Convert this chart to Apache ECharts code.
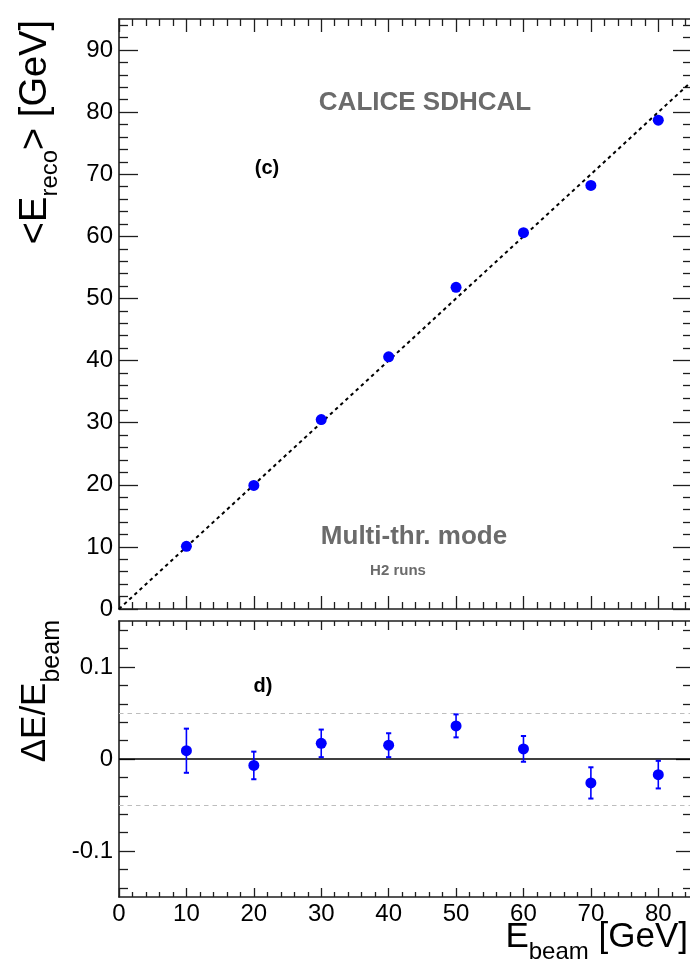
<!DOCTYPE html>
<html>
<head>
<meta charset="utf-8">
<title>CALICE SDHCAL linearity</title>
<script src="https://cdn.jsdelivr.net/npm/echarts@6.0.0/dist/echarts.min.js"></script>
<style>
  html, body { margin: 0; padding: 0; background: #ffffff; }
  #chart { width: 690px; height: 966px; }
</style>
</head>
<body>
<div id="chart"></div>
<script>
// Beam energies (GeV)
const beamEnergy = [10, 20, 30, 40, 50, 60, 70, 80];
// Mean reconstructed energy (GeV)
const recoEnergy = [10.1, 19.9, 30.5, 40.6, 51.8, 60.6, 68.2, 78.7];
// Relative deviation (E_reco - E_beam) / E_beam and its uncertainty
const relDeviation = [0.009, -0.007, 0.017, 0.015, 0.036, 0.011, -0.026, -0.017];
const relDeviationErr = [0.024, 0.015, 0.015, 0.013, 0.0125, 0.014, 0.017, 0.015];

// Reference line E_reco = E_beam
const diagSlope = 1.0;
const diagRange = [0, 85];

// Tick positions and labels
const xMajorTicks = [0, 10, 20, 30, 40, 50, 60, 70, 80];
const xMinorTicks = [2, 4, 6, 8, 12, 14, 16, 18, 22, 24, 26, 28, 32, 34, 36, 38, 42, 44, 46, 48,
                     52, 54, 56, 58, 62, 64, 66, 68, 72, 74, 76, 78, 82, 84];
const yTopMajorTicks = [0, 10, 20, 30, 40, 50, 60, 70, 80, 90];
const yTopMinorTicks = [2, 4, 6, 8, 12, 14, 16, 18, 22, 24, 26, 28, 32, 34, 36, 38, 42, 44, 46, 48,
                        52, 54, 56, 58, 62, 64, 66, 68, 72, 74, 76, 78, 82, 84, 86, 88, 92, 94];
const yBotMajorTicks = [-0.1, 0, 0.1];
const yBotMinorTicks = [-0.14, -0.12, -0.08, -0.06, -0.04, -0.02, 0.02, 0.04, 0.06, 0.08, 0.12, 0.14];
const bandLimits = [-0.05, 0.05];

const X_RANGE = [0, 85];
const Y_TOP_RANGE = [0, 95];
const Y_BOT_RANGE = [-0.15, 0.15];

const FRAME = '#1e1e1e';
const BLUE = '#0000ff';
const GREY_TEXT = '#6b6b6b';
const FONT = '"Liberation Sans", Arial, Helvetica, sans-serif';

function axis(gridIndex, position, range, ticks, tickLen, showLine, labelTicks) {
  return {
    type: 'value',
    gridIndex: gridIndex,
    position: position,
    min: range[0],
    max: range[1],
    axisLine: { show: showLine, onZero: false, lineStyle: { color: FRAME, width: 1.6 } },
    axisTick: {
      show: true, inside: true, length: tickLen, customValues: ticks,
      lineStyle: { color: FRAME, width: 1.3 }
    },
    axisLabel: labelTicks ? {
      show: true, customValues: labelTicks, color: '#000', fontFamily: FONT, fontSize: 24,
      margin: position === 'bottom' ? 5 : 6
    } : { show: false },
    splitLine: { show: false },
    minorTick: { show: false }
  };
}

const xAxes = [
  // top panel
  axis(0, 'bottom', X_RANGE, xMajorTicks, 13, true, null),
  axis(0, 'bottom', X_RANGE, xMinorTicks, 7, false, null),
  axis(0, 'top', X_RANGE, xMajorTicks, 13, true, null),
  axis(0, 'top', X_RANGE, xMinorTicks, 7, false, null),
  // bottom panel
  axis(1, 'bottom', X_RANGE, xMajorTicks, 9, true, xMajorTicks),
  axis(1, 'bottom', X_RANGE, xMinorTicks, 5, false, null),
  axis(1, 'top', X_RANGE, xMajorTicks, 9, true, null),
  axis(1, 'top', X_RANGE, xMinorTicks, 5, false, null)
];

const yAxes = [
  // top panel
  axis(0, 'left', Y_TOP_RANGE, yTopMajorTicks, 19, true, yTopMajorTicks),
  axis(0, 'left', Y_TOP_RANGE, yTopMinorTicks, 9, false, null),
  axis(0, 'right', Y_TOP_RANGE, yTopMajorTicks, 19, true, null),
  axis(0, 'right', Y_TOP_RANGE, yTopMinorTicks, 9, false, null),
  // bottom panel
  axis(1, 'left', Y_BOT_RANGE, yBotMajorTicks, 16, true, yBotMajorTicks),
  axis(1, 'left', Y_BOT_RANGE, yBotMinorTicks, 9, false, null),
  axis(1, 'right', Y_BOT_RANGE, yBotMajorTicks, 16, true, null),
  axis(1, 'right', Y_BOT_RANGE, yBotMinorTicks, 9, false, null)
];

const recoPoints = beamEnergy.map((e, i) => [e, recoEnergy[i]]);
const devPoints = beamEnergy.map((e, i) => [e, relDeviation[i], relDeviationErr[i]]);
const diagLine = diagRange.map(x => [x, diagSlope * x]);

function renderErrorBar(params, api) {
  const x = api.value(0), y = api.value(1), err = api.value(2);
  const hi = api.coord([x, y + err]);
  const lo = api.coord([x, y - err]);
  const cap = 2.6;
  const style = { stroke: BLUE, lineWidth: 1.6 };
  const capStyle = { stroke: BLUE, lineWidth: 2 };
  return {
    type: 'group',
    children: [
      { type: 'line', shape: { x1: hi[0], y1: hi[1], x2: lo[0], y2: lo[1] }, style: style },
      { type: 'line', shape: { x1: hi[0] - cap, y1: hi[1], x2: hi[0] + cap, y2: hi[1] }, style: capStyle },
      { type: 'line', shape: { x1: lo[0] - cap, y1: lo[1], x2: lo[0] + cap, y2: lo[1] }, style: capStyle }
    ]
  };
}

const titleRich = (main, sub, lineH) => ({
  m: { fontFamily: FONT, fontSize: main, lineHeight: lineH, verticalAlign: 'middle', fill: '#000' },
  s: { fontFamily: FONT, fontSize: sub, lineHeight: sub, verticalAlign: 'bottom', fill: '#000' }
});

const chart = echarts.init(document.getElementById('chart'), null, { renderer: 'canvas' });

chart.setOption({
  backgroundColor: '#ffffff',
  animation: false,
  grid: [
    { left: 119, top: 19, width: 573, height: 590, outerBoundsMode: 'none', containLabel: false },
    { left: 119, top: 621, width: 573, height: 276, outerBoundsMode: 'none', containLabel: false }
  ],
  xAxis: xAxes,
  yAxis: yAxes,
  series: [
    {
      name: 'diagonal',
      type: 'line',
      xAxisIndex: 0, yAxisIndex: 0,
      data: diagLine,
      symbol: 'none',
      silent: true,
      lineStyle: { color: '#000', width: 2, type: [3.5, 3.5] },
      z: 2
    },
    {
      name: 'reco',
      type: 'scatter',
      xAxisIndex: 0, yAxisIndex: 0,
      data: recoPoints,
      symbol: 'circle',
      symbolSize: 11,
      itemStyle: { color: BLUE, opacity: 1 },
      z: 5
    },
    {
      name: 'deviation error',
      type: 'custom',
      xAxisIndex: 4, yAxisIndex: 4,
      data: devPoints,
      renderItem: renderErrorBar,
      encode: { x: 0, y: 1 },
      z: 4
    },
    {
      name: 'deviation',
      type: 'scatter',
      xAxisIndex: 4, yAxisIndex: 4,
      data: devPoints.map(p => [p[0], p[1]]),
      symbol: 'circle',
      symbolSize: 11,
      itemStyle: { color: BLUE, opacity: 1 },
      z: 5,
      markLine: {
        silent: true,
        symbol: 'none',
        label: { show: false },
        animation: false,
        z: 1,
        data: [
          { yAxis: 0, lineStyle: { color: '#000', width: 1.5, type: 'solid' } },
          { yAxis: bandLimits[0], lineStyle: { color: '#bdbdbd', width: 1, type: [4.5, 4] } },
          { yAxis: bandLimits[1], lineStyle: { color: '#bdbdbd', width: 1, type: [4.5, 4] } }
        ]
      }
    }
  ],
  graphic: [
    {
      type: 'text', x: 36, y: 20, rotation: Math.PI / 2,
      style: {
        text: '{m|<E}{s|reco}{m|> [GeV]}',
        align: 'right', verticalAlign: 'middle',
        rich: titleRich(38, 24, 53)
      }
    },
    {
      type: 'text', x: 35, y: 620, rotation: Math.PI / 2,
      style: {
        text: '{m|\u0394E/E}{s|beam}',
        align: 'right', verticalAlign: 'middle',
        rich: titleRich(35, 25, 60)
      }
    },
    {
      type: 'text', x: 688, y: 937,
      style: {
        text: '{m|E}{s|beam}{m| [GeV]}',
        align: 'right', verticalAlign: 'middle',
        rich: titleRich(35, 24, 55)
      }
    },
    {
      type: 'text', x: 425, y: 103,
      style: { text: 'CALICE SDHCAL', fontFamily: FONT, fontWeight: 'bold', fontSize: 26,
               fill: GREY_TEXT, align: 'center', verticalAlign: 'middle' }
    },
    {
      type: 'text', x: 267, y: 168,
      style: { text: '(c)', fontFamily: FONT, fontWeight: 'bold', fontSize: 20,
               fill: '#000', align: 'center', verticalAlign: 'middle' }
    },
    {
      type: 'text', x: 414, y: 537,
      style: { text: 'Multi-thr. mode', fontFamily: FONT, fontWeight: 'bold', fontSize: 26,
               fill: GREY_TEXT, align: 'center', verticalAlign: 'middle' }
    },
    {
      type: 'text', x: 398, y: 571,
      style: { text: 'H2 runs', fontFamily: FONT, fontWeight: 'bold', fontSize: 15,
               fill: GREY_TEXT, align: 'center', verticalAlign: 'middle' }
    },
    {
      type: 'text', x: 263, y: 686,
      style: { text: 'd)', fontFamily: FONT, fontWeight: 'bold', fontSize: 20,
               fill: '#000', align: 'center', verticalAlign: 'middle' }
    }
  ]
});
</script>
</body>
</html>
